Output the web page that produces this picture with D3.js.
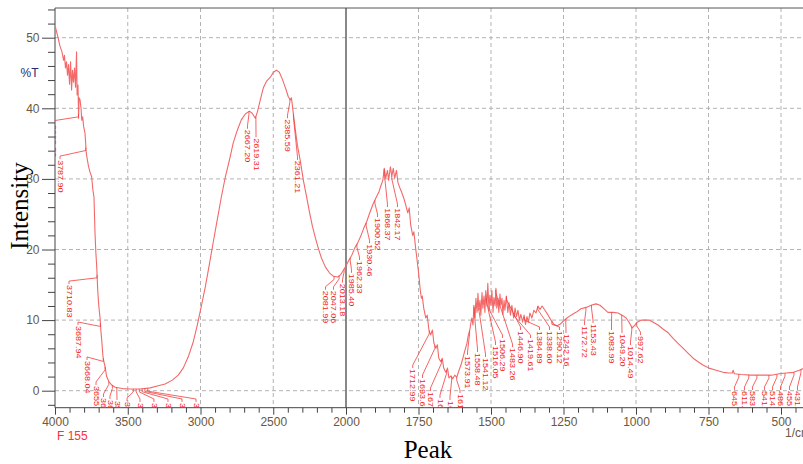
<!DOCTYPE html>
<html><head><meta charset="utf-8">
<script src="https://cdn.jsdelivr.net/npm/d3@7"></script>
<style>body{margin:0;background:#fff}svg{display:block}</style>
</head><body>
<svg id="c" width="803" height="464"></svg>
<script>
// spectrum: [wavenumber (1/cm), %T]
const spectrum = [
[3997,51.5],[3979,50.0],[3966,48.8],[3952,48.0],[3941,46.8],[3935,47.5],[3928,45.7],[3921,46.6],[3914,44.7],[3907,46.2],
[3900,43.4],[3893,46.6],[3886,42.6],[3880,45.4],[3873,43.7],[3866,45.7],[3859,43.0],[3852,48.0],[3848,41.9],[3842,43.3],
[3838,38.6],[3835,41.5],[3828,41.2],[3821,40.0],[3816,38.3],[3810,38.8],[3803,37.4],[3794,36.5],[3789,35.0],[3787,34.0],
[3780,33.0],[3770,31.8],[3760,31.0],[3748,30.3],[3740,28.5],[3732,27.4],[3725,22.3],[3719,19.5],[3713,17.5],[3707,14.5],
[3702,12.8],[3696,11.4],[3691,10.5],[3685,8.6],[3679,7.2],[3674,5.8],[3670,4.8],[3663,4.0],[3656,3.4],[3645,2.0],
[3630,1.3],[3610,0.8],
[3587,0.5],[3539,0.3],[3484,0.25],[3415,0.25],[3346,0.4],[3291,0.7],[3243,0.95],[3194,1.5],[3153,2.2],[3119,3.2],
[3084,4.8],[3050,6.9],[3022,9.3],[2995,11.9],[2967,14.7],[2940,17.8],[2912,21.1],[2885,24.2],[2857,27.4],[2830,30.2],
[2802,32.6],[2775,35.1],[2747,36.9],[2719,38.4],[2692,39.2],[2664,39.6],[2645,39.3],[2623,38.6],[2609,39.5],[2589,41.2],
[2568,42.9],[2547,43.8],[2520,44.4],[2499,45.1],[2478,45.4],[2458,45.1],[2437,44.1],[2416,42.9],[2396,41.6],[2382,41.2],
[2375,41.5],[2361,39.1],[2348,36.9],[2334,34.8],[2313,32.4],[2293,29.8],[2272,27.6],[2251,25.3],[2231,23.3],[2210,21.6],
[2189,20.1],[2169,18.8],[2141,17.5],[2114,16.7],[2086,16.2],[2058,16.1],[2038,16.4],[2017,17.1],[2000,17.7],[1991,18.4],
[1980,19.2],[1970,20.2],[1960,20.9],[1949,21.9],[1939,23.0],[1929,23.9],[1918,25.2],[1908,26.3],[1897,27.3],[1887,28.1],
[1880,29.0],[1873,29.8],[1868,31.5],[1863,30.1],[1857,31.2],[1853,29.8],[1847,31.7],[1842,30.4],[1837,31.5],[1832,30.1],
[1826,31.2],[1821,29.5],[1815,28.8],[1808,28.1],[1801,27.3],[1794,26.3],[1787,25.2],[1782,25.9],[1777,23.5],[1770,22.0],
[1766,22.5],[1759,19.9],[1754,18.2],[1749,16.4],[1744,14.3],[1740,13.1],[1737,13.4],[1732,11.7],[1725,10.3],[1720,10.7],
[1714,8.6],[1708,7.9],[1702,8.6],[1697,6.8],[1690,6.0],[1685,6.5],[1680,4.6],[1673,4.1],[1668,4.6],[1663,3.2],
[1656,2.6],[1650,3.2],[1645,1.8],[1638,2.1],[1632,1.7],[1625,2.2],[1618,1.9],[1611,2.8],[1604,3.6],[1597,4.6],
[1590,5.7],[1583,6.7],[1578,7.9],[1573,8.6],[1569,9.7],[1566,10.3],[1562,9.3],[1559,12.1],[1555,10.3],[1552,13.1],
[1548,11.1],[1545,13.8],[1542,11.4],[1538,12.8],[1535,10.7],[1531,13.9],[1528,11.7],[1524,13.4],[1521,11.1],[1518,14.2],
[1514,12.0],[1511,15.2],[1507,11.4],[1504,13.5],[1500,12.1],[1497,14.2],[1493,11.1],[1490,13.2],[1486,12.0],[1483,14.5],
[1480,11.7],[1476,13.1],[1473,11.1],[1469,13.7],[1466,12.1],[1462,13.1],[1459,10.8],[1455,12.8],[1452,11.4],[1447,13.4],
[1442,11.1],[1438,12.5],[1433,10.7],[1428,12.1],[1422,10.3],[1417,11.7],[1412,10.5],[1407,11.4],[1402,10.0],[1397,10.8],
[1391,9.7],[1386,10.7],[1381,9.4],[1376,10.5],[1371,9.7],[1366,11.0],[1359,10.3],[1352,11.4],[1345,11.0],[1338,12.0],
[1331,11.5],[1324,12.0],[1314,11.4],[1303,10.7],[1293,10.0],[1283,9.4],[1272,9.2],[1262,9.4],[1252,9.8],[1238,10.3],
[1224,10.7],[1207,11.1],[1190,11.6],[1172,11.8],[1155,12.1],[1138,12.3],[1124,12.1],[1110,11.6],[1097,11.1],[1079,11.1],
[1062,11.0],[1048,10.7],[1034,10.3],[1024,9.7],[1013,8.9],[1006,9.2],[996,9.7],[982,10.0],[968,10.0],[955,10.0],
[941,9.7],[924,9.3],[906,8.7],[889,8.2],[872,7.4],[855,6.7],[837,6.0],[820,5.3],[803,4.6],[786,4.1],
[768,3.6],[748,3.2],[724,2.9],[699,2.6],[679,2.5],[668,2.5],[665,2.9],[661,2.4],[637,2.3],[602,2.2],
[568,2.2],[533,2.2],[506,2.4],[482,2.5],[457,2.6],[437,2.9],[420,3.2],[400,3.5]
];
// peaks: [peak wavenumber, label wavenumber, label top %T]
const peaks = [
[3838.52,4014,37.8],[3787.90,3965.6,32.8],[3710.83,3903.8,15.1],[3687.94,3841.9,9.3],[3668.04,3780,4.35],
[3655.77,3718,0.81],[3630.12,3666.7,-0.89],[3605.46,3622,-1.17],[3575.30,3574,-1.3],[3462.14,3505,-1.46],
[3441.80,3416,-1.6],[3420.55,3320,-1.6],[3400.93,3223.5,-1.6],[3382.41,3127,-1.6],[3362.77,3031,-1.6],
[2667.20,2677,37.1],[2619.31,2618.5,35.9],[2385.59,2402,38.6],[2361.21,2333.3,32.7],
[2081.99,2140.8,14.3],[2047.06,2085.8,14.3],[2013.18,2024,15.3],[1985.40,1981,16.7],[1962.33,1953.5,18.5],
[1930.46,1919,20.9],[1900.52,1891.4,24.6],[1868.37,1857,26.0],[1842.17,1822.4,26.0],
[1712.99,1769.9,3.2],[1693.60,1736.2,1.8],[1670.35,1708.6,-0.04],[1653.00,1675.9,-1.03],[1635.64,1641.4,-1.32],[1618.28,1607,-0.33],
[1573.91,1581,5.06],[1558.48,1546.6,5.48],[1541.12,1519,4.77],[1516.05,1484.5,6.47],[1506.29,1460.4,7.46],
[1483.26,1425.9,6.19],[1446.90,1398.3,8.6],[1419.61,1363.8,7.46],[1384.89,1332.8,8.6],[1338.60,1298.3,8.6],
[1290.12,1263.8,8.6],[1242.16,1241.4,8.17],[1172.72,1177.6,9.31],[1153.43,1148.3,9.59],[1083.99,1084.5,8.6],
[1049.20,1048.3,8.17],[1014.49,1019,6.47],[997.62,984.6,7.88],
[645.52,660.5,0.1],[611.08,625.9,0.1],[583.14,598.4,0.1],[541.70,557.0,0.1],[514.12,529.4,0.1],
[486.27,501.8,0.1],[455.31,470.8,0.1],[431.18,443.2,0.1]
];
const xMajorTicks = [4000,3500,3000,2500,2000,1750,1500,1250,1000,750,500];
const xMinorTicks = d3.range(4000,1999,-100).concat(d3.range(1950,399,-50));
const yMajorTicks = [0,10,20,30,40,50];
const yMinorTicks = d3.range(-2,55,2);

const svg = d3.select("#c");
const P = {l:55, r:803, t:8, b:407.7};
const x = d3.scaleLinear().domain([4000,2000,400]).range([55,346,810]);
const y = d3.scaleLinear().domain([0,50]).range([390.7,37.7]);
const tickColor = "#6a5840";
const sans = "'Liberation Sans', Arial, sans-serif";
const serif = "'Liberation Serif', 'Times New Roman', serif";

svg.append("defs").append("clipPath").attr("id","pc").append("rect")
  .attr("x",P.l).attr("y",P.t).attr("width",P.r-P.l).attr("height",P.b-P.t);

// grid
const grid = svg.append("g").attr("stroke","#b3b3b3").attr("stroke-dasharray","4,3").attr("stroke-width",1);
xMajorTicks.filter(d=>d!==2000 && d!==4000).forEach(d=>{
  grid.append("line").attr("x1",x(d)).attr("x2",x(d)).attr("y1",P.t).attr("y2",P.b);
});
yMajorTicks.forEach(d=>{
  grid.append("line").attr("x1",P.l).attr("x2",P.r).attr("y1",y(d)).attr("y2",y(d));
});
svg.append("line").attr("x1",x(2000)).attr("x2",x(2000)).attr("y1",P.t).attr("y2",P.b)
  .attr("stroke","#6b6b6b").attr("stroke-width",1.6);

// axes
const yAxis = d3.axisLeft(y).tickValues(yMinorTicks).tickSize(7)
  .tickFormat(d=>yMajorTicks.includes(d)?d:"");
const gy = svg.append("g").attr("transform",`translate(${P.l},0)`).call(yAxis);
gy.select(".domain").remove();
gy.selectAll(".tick line").attr("stroke","#444").attr("x2",d=>yMajorTicks.includes(d)?-13:-7);
gy.selectAll(".tick text").attr("x",-15.5).attr("fill",tickColor).style("font-family",sans).style("font-size","12px");

const xAxis = d3.axisBottom(x).tickValues(xMinorTicks).tickSize(5)
  .tickFormat(d=>xMajorTicks.includes(d)?d:"");
const gx = svg.append("g").attr("transform",`translate(0,${P.b})`).call(xAxis);
gx.select(".domain").remove();
gx.selectAll(".tick line").attr("stroke","#444").attr("y2",d=>xMajorTicks.includes(d)?7:5);
gx.selectAll(".tick text").attr("y",10).attr("fill",tickColor).style("font-family",sans).style("font-size","12px");

// frame
svg.append("line").attr("x1",P.l).attr("x2",P.l).attr("y1",P.t).attr("y2",P.b).attr("stroke","#444");
svg.append("line").attr("x1",P.l).attr("x2",P.r).attr("y1",P.b).attr("y2",P.b).attr("stroke","#444");
svg.append("line").attr("x1",P.l).attr("x2",P.r).attr("y1",P.t).attr("y2",P.t).attr("stroke","#555");

// spectrum
const plot = svg.append("g").attr("clip-path","url(#pc)");
const line = d3.line().x(d=>x(d[0])).y(d=>y(d[1]));
plot.append("path").datum(spectrum).attr("d",line).attr("fill","none")
  .attr("stroke","#f36868").attr("stroke-width",1.1).attr("stroke-linejoin","round");

// interpolate spectrum at a wavenumber
const asc = spectrum.slice().reverse();
const bis = d3.bisector(d=>d[0]).left;
function tAt(w){
  const i = Math.max(1, Math.min(asc.length-1, bis(asc,w)));
  const a = asc[i-1], b = asc[i];
  return a[1] + (b[1]-a[1])*(w-a[0])/(b[0]-a[0]);
}

// peak leaders + labels
const fmt = d3.format(".2f");
const pk = plot.append("g");
peaks.forEach(([w,lw,lt])=>{
  const px = x(w), py = y(tAt(w)), lx = x(lw), ly = y(lt);
  pk.append("path").attr("d",`M${px},${py}L${px},${py+3}L${lx},${ly-3}L${lx},${ly}`)
    .attr("fill","none").attr("stroke","#f23c3c").attr("stroke-width",0.8);
  pk.append("text").attr("transform",`translate(${lx},${ly+1}) rotate(90) scale(1,0.75)`)
    .attr("dy","0.35em").attr("fill","#f01818")
    .style("font-family",sans).style("font-size","9px").text(fmt(w));
});

// texts
svg.append("text").attr("x",29.5).attr("y",76.5).attr("text-anchor","middle")
  .attr("fill","#2a2a6a").style("font-family",sans).style("font-size","12px").text("%T");
svg.append("text").attr("x",57).attr("y",440).attr("fill","#ff3030")
  .style("font-family",sans).style("font-size","12px").text("F 155");
svg.append("text").attr("x",785).attr("y",437).attr("fill",tickColor)
  .style("font-family",sans).style("font-size","12px").text("1/cm");
svg.append("text").attr("transform","translate(28,206) rotate(-90)").attr("text-anchor","middle")
  .attr("fill","#000").style("font-family",serif).style("font-size","25px").text("Intensity");
svg.append("text").attr("x",428).attr("y",458).attr("text-anchor","middle")
  .attr("fill","#000").style("font-family",serif).style("font-size","25px").text("Peak");
</script>
</body></html>
